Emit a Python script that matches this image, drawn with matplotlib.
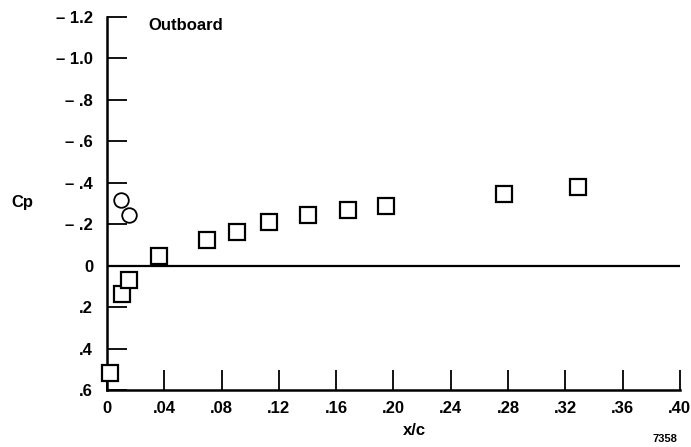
import matplotlib
matplotlib.use("Agg")
import matplotlib.pyplot as plt

plt.rcParams['font.family'] = ['Liberation Sans', 'DejaVu Sans']
plt.rcParams['font.weight'] = 'bold'

# Outboard pressure data (Cp, negative = suction, plotted upward)
circle_x = [0.010, 0.0155]
circle_cp = [-0.315, -0.245]

square_x = [0.002, 0.0105, 0.015, 0.036, 0.070, 0.091, 0.113, 0.140, 0.168, 0.195, 0.277, 0.329]
square_cp = [0.52, 0.135, 0.07, -0.045, -0.125, -0.16, -0.21, -0.242, -0.266, -0.285, -0.346, -0.378]

x_ticks = [0, 0.04, 0.08, 0.12, 0.16, 0.20, 0.24, 0.28, 0.32, 0.36, 0.40]
x_labels = ['0', '.04', '.08', '.12', '.16', '.20', '.24', '.28', '.32', '.36', '.40']
y_ticks = [-1.2, -1.0, -0.8, -0.6, -0.4, -0.2, 0, 0.2, 0.4, 0.6]
y_labels = ['\u2013 1.2', '\u2013 1.0', '\u2013 .8', '\u2013 .6', '\u2013 .4', '\u2013 .2', '0', '.2', '.4', '.6']

fig = plt.figure(figsize=(6.91, 4.47), dpi=100)
ax = fig.add_axes([0.1549, 0.1275, 0.829, 0.835])

ax.axhline(0, color='black', lw=1.6, zorder=1)
ax.plot(square_x, square_cp, linestyle='none', marker='s', ms=11, mfc='white',
        mec='black', mew=1.6, zorder=3, clip_on=False)
ax.plot(circle_x, circle_cp, linestyle='none', marker='o', ms=10.5, mfc='white',
        mec='black', mew=1.3, zorder=3, clip_on=False)

ax.set_xlim(0, 0.4)
ax.set_ylim(0.6, -1.2)

ax.set_xticks(x_ticks)
ax.set_xticklabels(x_labels)
ax.set_yticks(y_ticks)
ax.set_yticklabels(y_labels)

ax.tick_params(axis='both', direction='in', length=14.5, width=1.3, labelsize=12)
ax.tick_params(axis='x', pad=8)
ax.tick_params(axis='y', pad=10)

for s in ['top', 'right']:
    ax.spines[s].set_visible(False)
for s in ['left', 'bottom']:
    ax.spines[s].set_linewidth(1.8)

fig.text(0.600, 0.036, 'x/c', fontsize=12, fontweight='bold', ha='center', va='center')
fig.text(0.017, 0.547, 'Cp', fontsize=12, fontweight='bold', ha='left', va='center')
ax.text(0.029, -1.16, 'Outboard', fontsize=12, fontweight='bold', ha='left', va='center')
fig.text(0.963, 0.018, '7358', fontsize=8, fontweight='bold', ha='center', va='center')

fig.savefig('out.png', dpi=100)
